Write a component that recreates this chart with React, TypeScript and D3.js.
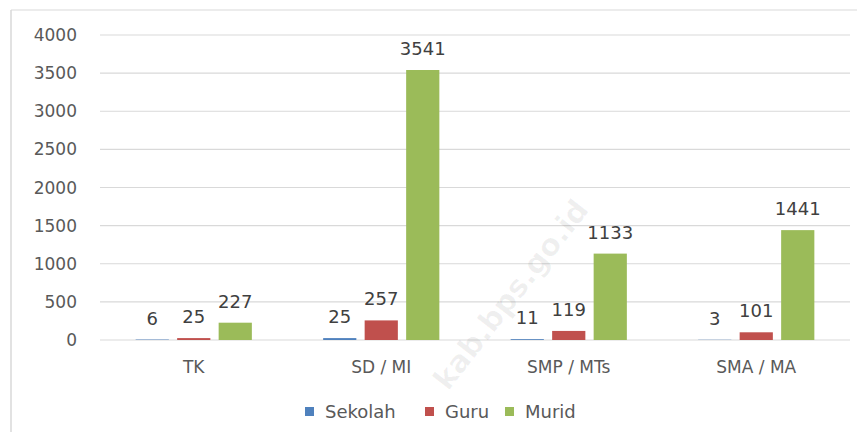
import { scaleBand, scaleLinear } from "d3";

const categories = ["TK", "SD / MI", "SMP / MTs", "SMA / MA"];
const seriesNames = ["Sekolah", "Guru", "Murid"];
const sekolah = [6, 25, 11, 3];
const guru = [25, 257, 119, 101];
const murid = [227, 3541, 1133, 1441];
const yTicks = [0, 500, 1000, 1500, 2000, 2500, 3000, 3500, 4000];

const colors = ["#4f81bd", "#c0504d", "#9bbb59"];
const font = "'DejaVu Sans', sans-serif";

export default function App() {
  const width = 857;
  const height = 432;
  const values = [sekolah, guru, murid];

  const x0 = scaleBand<string>()
    .domain(categories)
    .range([100, 850])
    .paddingInner(0.336)
    .paddingOuter(0.168);

  const x1 = scaleBand<string>()
    .domain(seriesNames)
    .range([0, x0.bandwidth()])
    .paddingInner(0.2)
    .paddingOuter(0.1);

  const y = scaleLinear().domain([0, 4000]).range([340, 35]);

  const legendX = [305, 425, 505];

  return (
    <svg
      width={width}
      height={height}
      style={{ position: "absolute", left: 0, top: 0, background: "#fff" }}
    >
      {/* chart frame */}
      <line x1={11} y1={10} x2={857} y2={10} stroke="#d9d9d9" />
      <line x1={11} y1={10} x2={11} y2={432} stroke="#d9d9d9" strokeWidth={1.5} />

      {/* grid */}
      {yTicks.map((t) => (
        <g key={t}>
          <line x1={100} x2={850} y1={y(t)} y2={y(t)} stroke="#d9d9d9" strokeWidth={1.2} />
          <text
            x={77}
            y={y(t)}
            dy="0.36em"
            textAnchor="end"
            fontFamily={font}
            fontSize={17}
            fill="#595959"
          >
            {t}
          </text>
        </g>
      ))}

      {/* watermark */}
      <text
        x={590}
        y={210}
        transform="rotate(-52 590 210)"
        textAnchor="end"
        fontFamily={font}
        fontSize={30}
        fontWeight="bold"
        fill="#000"
        fillOpacity={0.06}
      >
        kab.bps.go.id
      </text>

      {/* bars */}
      {categories.map((c, i) => (
        <g key={c} transform={`translate(${x0(c)},0)`}>
          {seriesNames.map((s, j) => {
            const v = values[j][i];
            const bx = x1(s) as number;
            return (
              <g key={s}>
                <rect
                  x={bx}
                  y={y(v)}
                  width={x1.bandwidth()}
                  height={y(0) - y(v)}
                  fill={colors[j]}
                />
                <text
                  x={bx + x1.bandwidth() / 2}
                  y={y(v) - 15}
                  textAnchor="middle"
                  fontFamily={font}
                  fontSize={18}
                  fill="#404040"
                >
                  {v}
                </text>
              </g>
            );
          })}
          <text
            x={x0.bandwidth() / 2}
            y={373}
            textAnchor="middle"
            fontFamily={font}
            fontSize={17}
            fill="#595959"
          >
            {c}
          </text>
        </g>
      ))}

      {/* legend */}
      {seriesNames.map((s, j) => (
        <g key={s}>
          <rect x={legendX[j]} y={407} width={9} height={9} fill={colors[j]} />
          <text
            x={legendX[j] + 20}
            y={418}
            fontFamily={font}
            fontSize={18}
            fill="#595959"
          >
            {s}
          </text>
        </g>
      ))}
    </svg>
  );
}
